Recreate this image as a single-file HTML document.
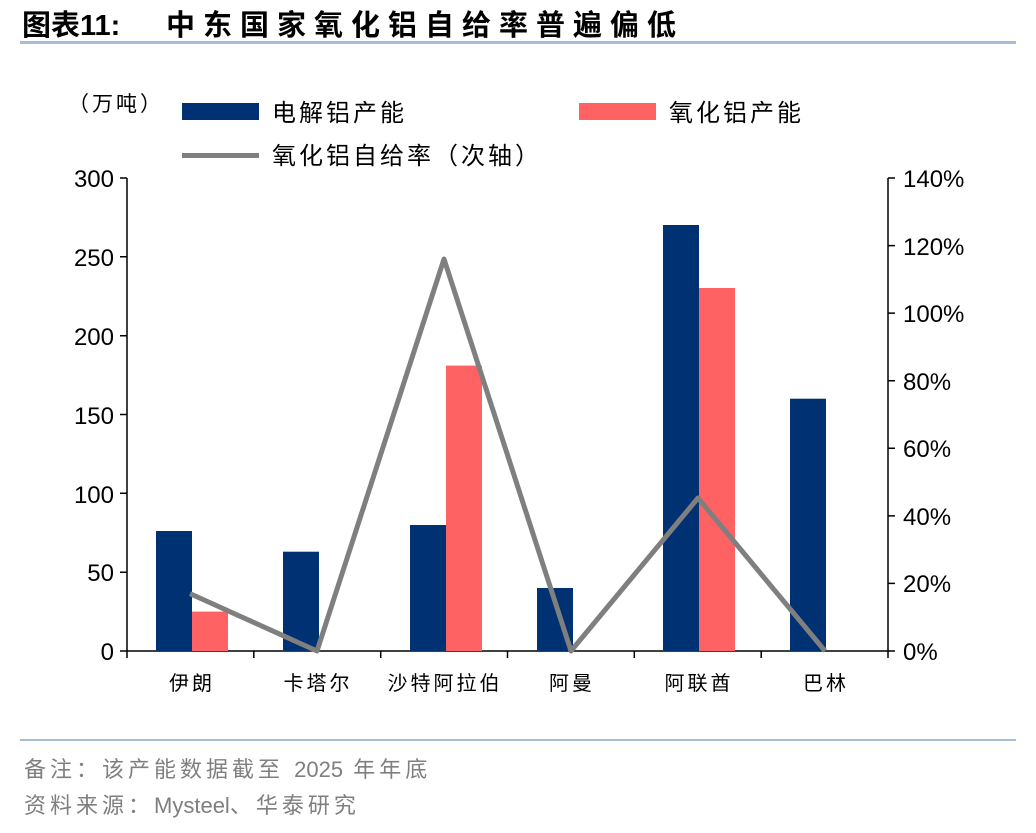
<!DOCTYPE html>
<html><head><meta charset="utf-8"><style>
body{margin:0;background:#fff;}
svg text{font-family:"Liberation Sans","Noto Sans CJK SC",sans-serif;}
</style></head><body>
<svg width="1036" height="828" xmlns="http://www.w3.org/2000/svg">
<rect width="1036" height="828" fill="#fff"/>
<text x="22" y="35" font-size="29" font-weight="bold" fill="#000">图表11:</text>
<text x="166" y="35" font-size="29" font-weight="bold" fill="#000" letter-spacing="8">中东国家氧化铝自给率普遍偏低</text>
<rect x="20" y="41" width="996" height="3" fill="#a7bcd6"/>
<text x="68" y="111" font-size="21" fill="#000" letter-spacing="3">（万吨）</text>
<rect x="182" y="103" width="77" height="17" fill="#003173"/>
<text x="272" y="121" font-size="24" fill="#000" letter-spacing="3">电解铝产能</text>
<rect x="579" y="103" width="77" height="17" fill="#ff6262"/>
<text x="669" y="121" font-size="24" fill="#000" letter-spacing="3">氧化铝产能</text>
<rect x="182" y="153" width="77" height="5" fill="#7f7f7f"/>
<text x="272" y="164" font-size="24" fill="#000" letter-spacing="3">氧化铝自给率（次轴）</text>
<g stroke="#000" stroke-width="1.5" fill="none">
<line x1="127" y1="178" x2="127" y2="651"/>
<line x1="888" y1="178" x2="888" y2="651"/>
<line x1="127" y1="651" x2="888" y2="651"/>
<path d="M120 178H127M120 256.8H127M120 335.7H127M120 414.5H127M120 493.3H127M120 572.2H127M120 651H127"/>
<path d="M888 178H895M888 245.6H895M888 313.1H895M888 380.7H895M888 448.3H895M888 515.9H895M888 583.4H895M888 651H895"/>
<path d="M127 651V658M253.8 651V658M380.7 651V658M507.5 651V658M634.3 651V658M761.2 651V658M888 651V658"/>
</g>
<g font-size="24" fill="#000" text-anchor="end">
<text x="114" y="187">300</text><text x="114" y="266">250</text><text x="114" y="345">200</text>
<text x="114" y="424">150</text><text x="114" y="503">100</text><text x="114" y="581">50</text><text x="114" y="660">0</text>
</g>
<g font-size="24" fill="#000">
<text x="903" y="187">140%</text><text x="903" y="255">120%</text><text x="903" y="322">100%</text>
<text x="903" y="390">80%</text><text x="903" y="457">60%</text><text x="903" y="525">40%</text>
<text x="903" y="592">20%</text><text x="903" y="660">0%</text>
</g>
<g fill="#003173">
<rect x="156" y="531" width="36" height="120"/>
<rect x="283" y="551.7" width="36" height="99.3"/>
<rect x="410" y="525" width="36" height="126"/>
<rect x="537" y="588" width="36" height="63"/>
<rect x="663" y="225" width="36" height="426"/>
<rect x="790" y="398.7" width="36" height="252.3"/>
</g>
<g fill="#ff6262">
<rect x="192" y="611.6" width="36" height="39.4"/>
<rect x="446" y="365.6" width="36" height="285.4"/>
<rect x="699" y="288" width="36" height="363"/>
</g>
<polyline points="190,593.6 317,651 444,259 571,651 698,498 825,651" fill="none" stroke="#7f7f7f" stroke-width="5" stroke-linejoin="round"/>
<g font-size="20" fill="#000" text-anchor="middle" letter-spacing="3">
<text x="192" y="690">伊朗</text><text x="318" y="690">卡塔尔</text><text x="445" y="690">沙特阿拉伯</text>
<text x="572" y="690">阿曼</text><text x="699" y="690">阿联酋</text><text x="826" y="690">巴林</text>
</g>
<rect x="20" y="739" width="996" height="2" fill="#a7bcd6"/>
<text x="24" y="777" font-size="22" fill="#7f7f7f"><tspan letter-spacing="4">备注：该产能数据截至 </tspan><tspan>2025</tspan><tspan letter-spacing="4"> 年年底</tspan></text>
<text x="24" y="813" font-size="22" fill="#7f7f7f"><tspan letter-spacing="4">资料来源：</tspan><tspan>Mysteel</tspan><tspan letter-spacing="4">、华泰研究</tspan></text>
</svg>
</body></html>
